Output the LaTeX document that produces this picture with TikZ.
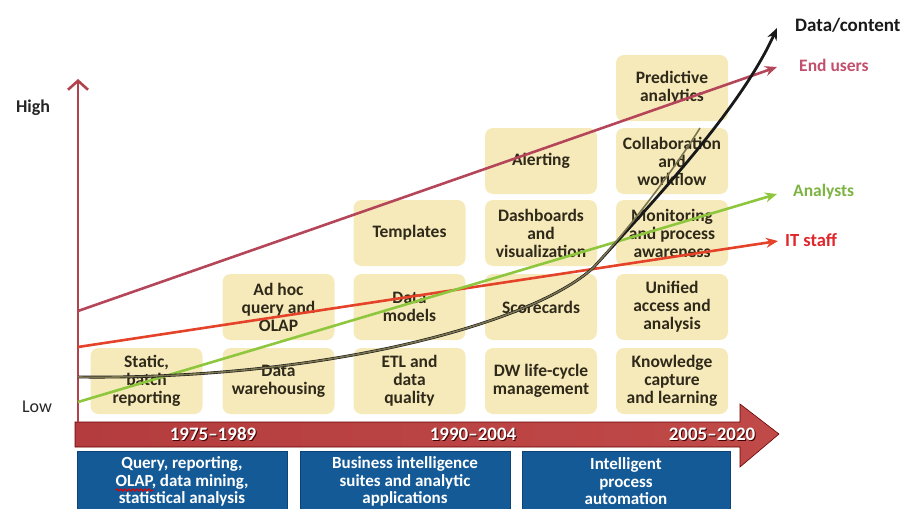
\documentclass[tikz,border=0pt]{standalone}
\usepackage{fontspec}
\setmainfont{Carlito}
\usetikzlibrary{arrows.meta,decorations.pathmorphing}

\definecolor{boxfill}{HTML}{F6EABB}
\definecolor{boxtext}{HTML}{2F2919}
\definecolor{axisred}{HTML}{B0424C}
\definecolor{enduser}{HTML}{B5465A}
\definecolor{itstaff}{HTML}{E4432A}
\definecolor{analyst}{HTML}{8EC63E}
\definecolor{datakhaki}{HTML}{7A7450}
\definecolor{tlleft}{HTML}{B43C3E}
\definecolor{tldark}{HTML}{681316}
\definecolor{tlright}{HTML}{C04A48}
\definecolor{erablue}{HTML}{145A96}
\definecolor{eraedge}{HTML}{0C4478}
\definecolor{enduserlbl}{HTML}{C2506C}
\definecolor{analystlbl}{HTML}{7CB342}
\definecolor{itstafflbl}{HTML}{E0262A}

\newcommand\erafont{\fontsize{17}{17.5}\selectfont\bfseries}

\tikzset{
  stage/.style={rectangle, rounded corners=8pt, fill=boxfill,
    minimum width=112pt, minimum height=66pt, inner sep=0pt, align=center,
    font=\fontsize{17.5}{18}\selectfont\bfseries, text=boxtext},
  era/.style={rectangle, fill=erablue, draw=eraedge, line width=0.8pt,
    minimum height=60pt, inner sep=0pt, align=center,
    font=\erafont, text=white},
  period/.style={font=\fontsize{19}{20}\selectfont\bfseries, text=white, inner sep=0pt},
  periodshadow/.style={font=\fontsize{19}{20}\selectfont\bfseries, text=black!75!red, inner sep=0pt},
  trend/.style={line width=2.6pt, -{Stealth[length=12pt,width=10pt]}},
  sidelabel/.style={anchor=west, inner sep=0pt, font=\fontsize{17.5}{19}\selectfont\bfseries},
  level/.style={inner sep=0pt, font=\fontsize{18}{20}\selectfont, text=black!85}
}

\begin{document}
\begin{tikzpicture}[x=1pt,y=-1pt]
\useasboundingbox (0,0) rectangle (909,508);

% capability boxes, column by column
\node[stage] (static)  at (146.5,381) {Static,\\batch\\reporting};
\node[stage] (dw)      at (278.5,381) {Data\\warehousing};
\node[stage] (adhoc)   at (278.5,307) {Ad hoc\\query and\\OLAP};
\node[stage] (etl)     at (409.5,381) {ETL and\\data\\quality};
\node[stage] (models)  at (409.5,307) {Data\\models};
\node[stage] (templ)   at (409.5,233) {Templates};
\node[stage] (dwlc)    at (541,381)   {DW life-cycle\\management};
\node[stage] (score)   at (541,307)   {Scorecards};
\node[stage] (dash)    at (541,233)   {Dashboards\\and\\visualization};
\node[stage] (alert)   at (541,161)   {Alerting};
\node[stage] (know)    at (672,381)   {Knowledge\\capture\\and learning};
\node[stage] (unified) at (672,307)   {Unified\\access and\\analysis};
\node[stage] (monitor) at (672,233)   {Monitoring\\and process\\awareness};
\node[stage] (collab)  at (672,161)   {Collaboration\\and\\workflow};
\node[stage] (predict) at (672,88)    {Predictive\\analytics};

% timeline arrow
\path[shade, left color=tlleft, middle color=tldark, right color=tlright,
      draw=black!60!red, line width=0.6pt]
  (75,422) -- (740,422) -- (740,404) -- (779,434) -- (740,467)
  -- (740,447) -- (75,447) -- cycle;
\node[periodshadow] (p1s) at (214,435.5) {1975--1989};
\node[periodshadow] (p2s) at (474,435.5) {1990--2004};
\node[periodshadow] (p3s) at (713,435.5) {2005--2020};
\node[period] (p1) at (213,434.5) {1975--1989};
\node[period] (p2) at (473,434.5) {1990--2004};
\node[period] (p3) at (712,434.5) {2005--2020};

% eras
\node[era, minimum width=210pt, anchor=north] (era1) at (182,451)
  {Query, reporting,\\OLAP, data mining,\\statistical analysis};
\node[era, minimum width=210pt, anchor=north] (era2) at (405,451)
  {Business intelligence\\suites and analytic\\applications};
\node[era, minimum width=208pt, anchor=north] (era3) at (626,451)
  {Intelligent\\process\\automation};

% red wavy underline below the word OLAP on the second line
{\erafont
 \pgfmathsetmacro\lnwd{width("OLAP, data mining,")}%
 \pgfmathsetmacro\olwd{width("OLAP")}%
 \xdef\olapstart{\fpeval{182-\lnwd/2}}%
 \xdef\olapend{\fpeval{182-\lnwd/2+\olwd}}}
\coordinate (sq1) at (\olapstart,490);
\coordinate (sq2) at (\olapend,490);
\draw[red!90!black, line width=1pt, decorate,
      decoration={snake, amplitude=1.1pt, segment length=4pt}] (sq1) -- (sq2);

% vertical axis
\coordinate (axb) at (78,422);
\coordinate (axt) at (78,79);
\draw[axisred, line width=2.8pt, -{Straight Barb[length=9pt,width=20pt,line width=2.6pt]}] (axb) -- (axt);
\node[level, font=\fontsize{18}{20}\selectfont\bfseries] (high) at (33,108) {High};
\node[level] (low) at (37,407) {Low};

% trend lines
\coordinate (eu0) at (78,311);  \coordinate (eu1) at (777,67);
\coordinate (it0) at (78,347);  \coordinate (it1) at (778,241);
\coordinate (an0) at (78,402);  \coordinate (an1) at (777,194);
\coordinate (dc0) at (78,377);  \coordinate (dcm) at (593,268);
\coordinate (dc1) at (777,28);

\draw[trend, enduser] (eu0) -- (eu1);
\draw[trend, itstaff] (it0) -- (it1);
\draw[trend, analyst] (an0) -- (an1);
\draw[trend, black!90, line width=2.8pt]
  (dc0) .. controls (320,380) and (530,325) .. (dcm)
        .. controls (650,205) and (740,110) .. (dc1);
\draw[datakhaki, line width=1.6pt]
  (dc0) .. controls (320,380) and (530,325) .. (dcm)
        .. controls (640,216) and (680,160) .. (700,128);

% trend labels
\node[sidelabel, text=black!90, font=\fontsize{19}{21}\selectfont\bfseries] (lbldc) at (795,25) {Data/content};
\node[sidelabel, text=enduserlbl] (lbleu) at (799,65) {End users};
\node[sidelabel, text=analystlbl] (lblan) at (793,192) {Analysts};
\node[sidelabel, text=itstafflbl, font=\fontsize{18.5}{20}\selectfont\bfseries] (lblit) at (785,240) {IT staff};
\end{tikzpicture}
\end{document}
